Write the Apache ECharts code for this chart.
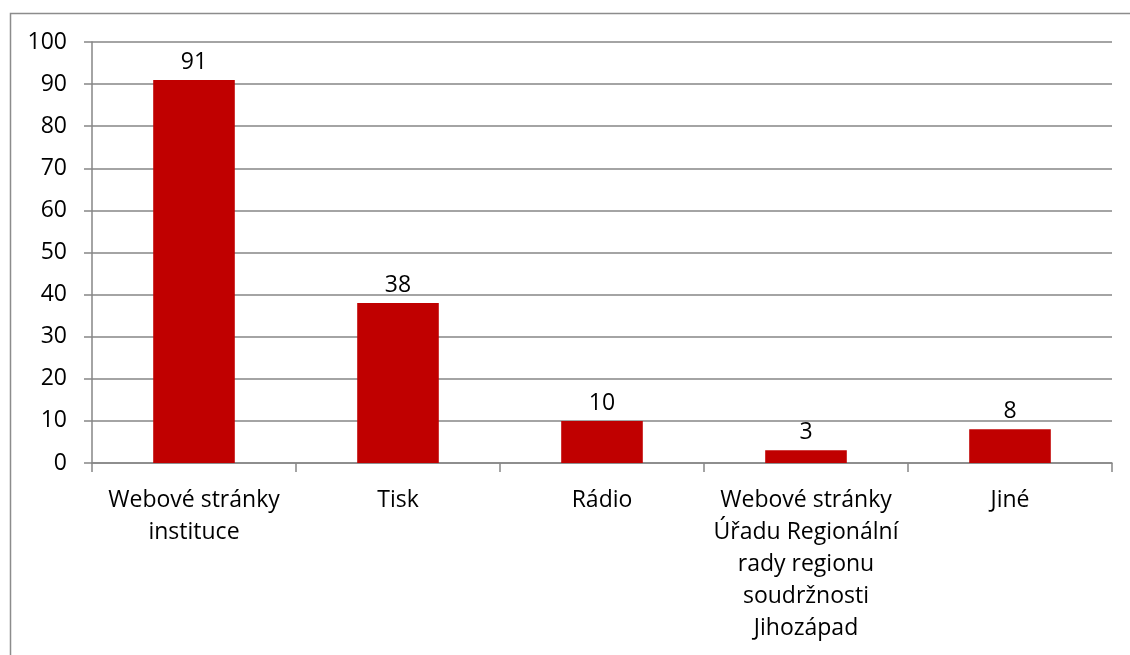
<!DOCTYPE html>
<html><head><meta charset="utf-8">
<script src="https://cdn.jsdelivr.net/npm/echarts@6/dist/echarts.min.js"></script>
<style>html,body{margin:0;padding:0;background:#fff}#c{width:1130px;height:655px}</style>
</head><body><div id="c"></div>
<script>
const categories = ["Webové stránky\ninstituce", "Tisk", "Rádio", "Webové stránky\nÚřadu Regionální\nrady regionu\nsoudržnosti\nJihozápad", "Jiné"];
const values = [91, 38, 10, 3, 8];
const yTicks = {min: 0, max: 100, interval: 10};
const FONT = "Open Sans";
const chart = echarts.init(document.getElementById('c'));
chart.setOption({
  animation: false,
  graphic: [{type: 'rect', shape: {x: 10.5, y: 13.5, width: 1130, height: 700}, style: {fill: 'none', stroke: '#8c8c8c', lineWidth: 1.5}, silent: true}],
  grid: {left: 92, right: 18, top: 42, bottom: 192, containLabel: false},
  xAxis: {
    type: 'category', data: categories,
    axisLine: {lineStyle: {color: '#868686', width: 1.5}},
    axisTick: {show: true, alignWithLabel: false, length: 9, lineStyle: {color: '#868686', width: 1.5}},
    axisLabel: {interval: 0, color: '#000', fontFamily: FONT, fontSize: 23, lineHeight: 32, margin: 21}
  },
  yAxis: {
    type: 'value', min: yTicks.min, max: yTicks.max, interval: yTicks.interval,
    axisLine: {show: true, lineStyle: {color: '#868686', width: 1.5}},
    axisTick: {show: true, length: 8, lineStyle: {color: '#868686', width: 1.5}},
    splitLine: {lineStyle: {color: '#868686', width: 1.5}},
    axisLabel: {color: '#000', fontFamily: FONT, fontSize: 23, margin: 25}
  },
  series: [{
    type: 'bar', data: values, barWidth: '40%',
    itemStyle: {color: '#C00000'},
    label: {show: true, position: 'top', color: '#000', fontFamily: FONT, fontSize: 23, distance: 6}
  }]
});
</script></body></html>
